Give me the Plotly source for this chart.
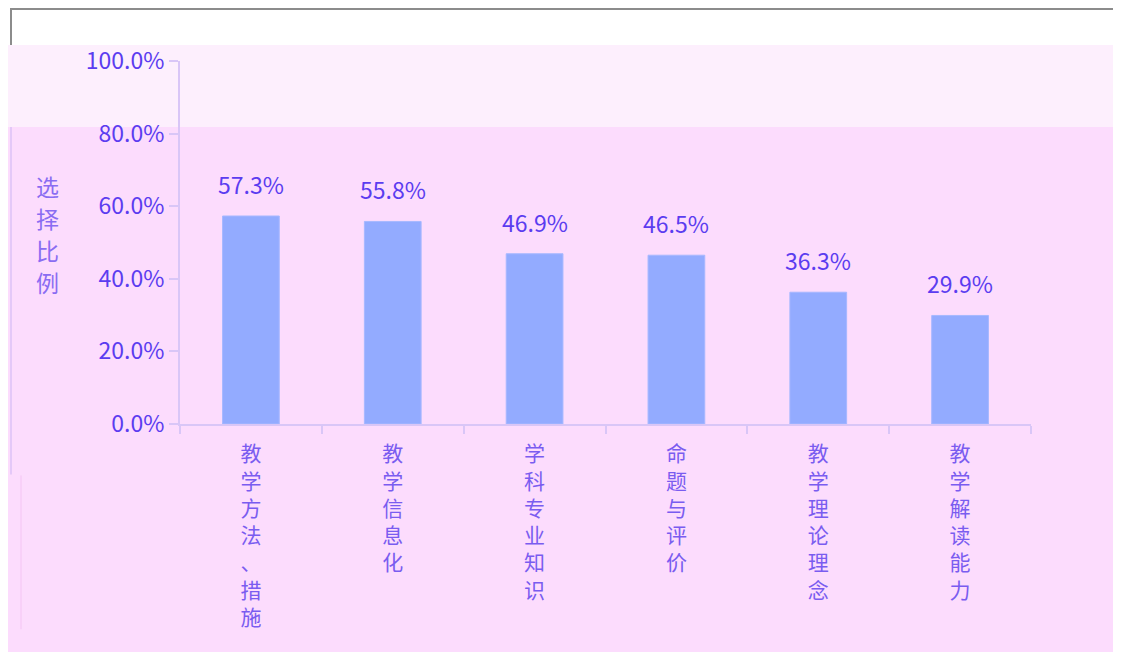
import plotly.graph_objects as go

categories = ["教学方法、措施", "教学信息化", "学科专业知识", "命题与评价", "教学理论理念", "教学解读能力"]
values = [0.573, 0.558, 0.469, 0.465, 0.363, 0.299]
y_ticks = [0, 0.2, 0.4, 0.6, 0.8, 1.0]
y_title = "选择比例"

def vert(s):
    return "<br>".join(list(s))

text_color = "#5b3cf0"
label_color = "#7a5cf0"
axis_color = "#d9c6f7"
bg = "#fcdcfd"

# layout in pixels (figure coords)
ML, MT, PW, PH = 172, 53, 851, 363.5
W, H = 1121, 652
MR = W - ML - PW
MB = H - MT - PH

def px(sx):  # screen x -> paper
    return (sx - 8 - ML) / PW

def py(sy):  # screen y -> paper
    return 1 - (sy - 8 - MT) / PH

xcats = [vert(c) for c in categories]

fig = go.Figure()
fig.add_trace(go.Bar(
    x=xcats,
    y=values,
    marker=dict(color="#93abff", line=dict(width=1, color="#a7b8ff")),
    width=0.4,
    hoverinfo="x+y",
))
for xc, v in zip(xcats, values):
    fig.add_annotation(
        x=xc, y=v, text=f"{v*100:.1f}%", showarrow=False,
        yanchor="bottom", yshift=13,
        font=dict(size=23, color=text_color),
    )

fig.update_layout(
    width=W, height=H,
    paper_bgcolor=bg, plot_bgcolor=bg,
    margin=dict(l=ML, r=MR, t=MT, b=MB, autoexpand=False),
    showlegend=False,
    font=dict(family="Noto Sans CJK SC", color=text_color),
)
fig.update_yaxes(
    range=[0, 1], tickvals=y_ticks, tickformat=".1%",
    showgrid=False, zeroline=False, automargin=False,
    showline=True, linecolor=axis_color, linewidth=2,
    ticks="outside", ticklen=9, tickcolor=axis_color, tickwidth=2,
    tickfont=dict(size=23, color=text_color),
)
fig.update_xaxes(
    showgrid=False, showline=True, linecolor=axis_color, linewidth=2,
    automargin=False,
    ticks="outside", tickson="boundaries", ticklen=8, tickcolor=axis_color, tickwidth=2,
    tickfont=dict(size=21, color=label_color), tickangle=0,
    ticklabelstandoff=10,
)
# vertical y-axis title, one character per line
for i, ch in enumerate(y_title):
    fig.add_annotation(
        text=ch, xref="paper", yref="paper", x=px(47), y=py(186 + 32 * i),
        xanchor="center", yanchor="middle", showarrow=False,
        font=dict(size=23, color="#8a6cf2"),
    )
# top white band with grey frame and lighter band below it
fig.add_shape(type="rect", xref="paper", yref="paper", layer="below",
              x0=px(0), x1=px(1125), y0=py(45), y1=py(0),
              fillcolor="white", line=dict(width=0))
fig.add_shape(type="rect", xref="paper", yref="paper", layer="below",
              x0=px(0), x1=px(1125), y0=py(127), y1=py(45),
              fillcolor="#fdeffd", line=dict(width=0))
fig.add_shape(type="path", xref="paper", yref="paper", layer="below",
              path=f"M {px(11)} {py(45)} L {px(11)} {py(9)} L {px(1118)} {py(9)} L {px(1118)} {py(45)}",
              line=dict(color="#8c8c8c", width=2))
# faint frame lines at the left/right edges
fig.add_shape(type="line", xref="paper", yref="paper", layer="below",
              x0=px(11), x1=px(11), y0=py(475), y1=py(127),
              line=dict(color="#e4c8f8", width=2))
fig.add_shape(type="line", xref="paper", yref="paper", layer="below",
              x0=px(21), x1=px(21), y0=py(630), y1=py(476),
              line=dict(color="#f4c4f4", width=1))
fig.add_shape(type="line", xref="paper", yref="paper", layer="below",
              x0=px(1118), x1=px(1118), y0=py(475), y1=py(127),
              line=dict(color="#e4c8f8", width=2))
fig.write_html("out.html")
